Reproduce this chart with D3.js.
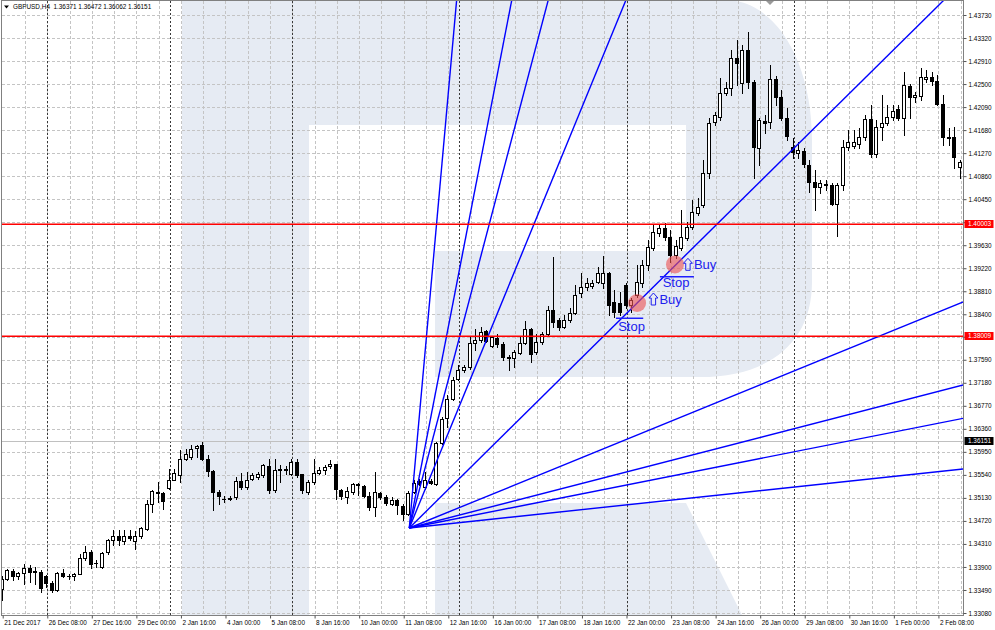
<!DOCTYPE html>
<html><head><meta charset="utf-8">
<script src="https://cdn.jsdelivr.net/npm/d3@7/dist/d3.min.js"></script>
<style>
html,body{margin:0;padding:0;background:#fff;}
svg{display:block;}
</style></head><body>
<svg id="chart" width="995" height="630"></svg>
<script>
// ---------------- DATA ----------------
const chartTitle = "GBPUSD,H4  1.36371 1.36472 1.36062 1.36151";

const barOpen = [1.33513,1.33691,1.33827,1.33732,1.33800,1.33887,1.33822,1.33809,1.33732,1.33613,
1.33483,1.33791,1.33745,1.33732,1.33780,1.34065,1.34165,1.33973,1.33898,1.34165,
1.34373,1.34449,1.34360,1.34444,1.34360,1.34444,1.34581,1.35014,1.35233,1.35215,
1.35311,1.35453,1.35541,1.35827,1.35857,1.36027,1.36065,1.35827,1.35601,1.35233,
1.35119,1.35103,1.35144,1.35429,1.35322,1.35471,1.35500,1.35530,1.35690,1.35263,
1.35637,1.35626,1.35560,1.35767,1.35548,1.35233,1.35411,1.35571,1.35631,1.35690,
1.35726,1.35275,1.35144,1.35233,1.35370,1.35334,1.35156,1.34966,1.35215,1.35144,
1.35014,1.35097,1.34978,1.34848,1.35233,1.35429,1.35316,1.35429,1.35382,1.36105,
1.36557,1.36895,1.37251,1.37399,1.37458,1.37885,1.37945,1.38099,1.37844,1.37981,
1.37874,1.37639,1.37625,1.37707,1.37885,1.38141,1.37725,1.37903,1.38052,1.38476,
1.38298,1.38179,1.38298,1.38423,1.38774,1.38880,1.38904,1.38980,1.38952,1.39130,
1.38624,1.38595,1.38921,1.38565,1.38743,1.38952,1.39278,1.39580,1.39848,1.39937,
1.39776,1.39456,1.39580,1.39758,1.39954,1.40204,1.40346,1.40916,1.41824,1.41913,
1.42341,1.42430,1.42964,1.42519,1.43107,1.42537,1.41361,1.41842,1.41824,1.42590,
1.42270,1.41896,1.41379,1.41272,1.41308,1.41058,1.40756,1.40667,1.40720,1.40702,
1.40364,1.40702,1.41379,1.41397,1.41433,1.41557,1.41878,1.41254,1.41735,1.41806,
1.41913,1.42056,1.41896,1.42465,1.42270,1.42287,1.42590,1.42626,1.42554,1.42145,
1.41557,1.41557,1.41023];

const barHigh = [1.33732,1.33869,1.33869,1.33809,1.33958,1.33928,1.33898,1.33839,1.33750,1.33649,
1.33809,1.33869,1.33780,1.33791,1.34136,1.34266,1.34195,1.34017,1.34165,1.34403,
1.34551,1.34551,1.34551,1.34551,1.34539,1.34610,1.35097,1.35263,1.35411,1.35233,
1.35649,1.35649,1.35976,1.36006,1.36065,1.36065,1.36124,1.35886,1.35619,1.35263,
1.35156,1.35156,1.35500,1.35571,1.35589,1.35571,1.35589,1.35738,1.35827,1.35827,
1.35708,1.35690,1.35827,1.35827,1.35560,1.35441,1.35827,1.35678,1.35708,1.35809,
1.35738,1.35293,1.35322,1.35393,1.35393,1.35352,1.35233,1.35589,1.35233,1.35174,
1.35144,1.35115,1.35014,1.35251,1.35441,1.35471,1.35589,1.35471,1.36123,1.36568,
1.36954,1.37280,1.37488,1.37488,1.38022,1.38141,1.38170,1.38123,1.38022,1.38052,
1.37903,1.37666,1.37767,1.37992,1.38289,1.38159,1.38052,1.38081,1.38556,1.39420,
1.38334,1.38387,1.38512,1.38921,1.39135,1.39046,1.39010,1.39247,1.39438,1.39158,
1.38832,1.38802,1.38957,1.38690,1.39278,1.39367,1.39723,1.39990,1.39990,1.40026,
1.39901,1.39723,1.40257,1.40043,1.40435,1.40471,1.41148,1.41896,1.42002,1.42608,
1.42537,1.43107,1.43285,1.43196,1.43427,1.42572,1.41896,1.41949,1.42839,1.42643,
1.42394,1.42074,1.41539,1.41468,1.41361,1.41148,1.40969,1.40791,1.40791,1.40738,
1.40738,1.41504,1.41682,1.41682,1.41717,1.41949,1.42127,1.41860,1.42305,1.42127,
1.42127,1.42127,1.42715,1.42501,1.42359,1.42786,1.42750,1.42715,1.42661,1.42305,
1.41717,1.41735,1.41148];

const barLow = [1.33305,1.33661,1.33661,1.33691,1.33602,1.33631,1.33602,1.33453,1.33542,1.33453,
1.33471,1.33720,1.33691,1.33673,1.33768,1.34029,1.33887,1.33898,1.33887,1.34136,
1.34284,1.34284,1.34302,1.34373,1.34225,1.34420,1.34551,1.34877,1.35055,1.34925,
1.35293,1.35441,1.35411,1.35798,1.35827,1.35857,1.35809,1.35518,1.34919,1.35014,
1.35055,1.35085,1.35115,1.35293,1.35293,1.35441,1.35471,1.35500,1.35215,1.35233,
1.35411,1.35560,1.35530,1.35500,1.35215,1.35204,1.35382,1.35548,1.35560,1.35667,
1.35115,1.35115,1.35037,1.35204,1.35174,1.35144,1.34907,1.34800,1.35115,1.34996,
1.34996,1.34836,1.34729,1.34827,1.35215,1.35352,1.35281,1.35370,1.35352,1.36094,
1.36390,1.36865,1.37221,1.37369,1.37429,1.37755,1.37903,1.37903,1.37814,1.37814,
1.37577,1.37399,1.37458,1.37696,1.37874,1.37547,1.37696,1.37874,1.38022,1.38179,
1.38120,1.38156,1.38262,1.38405,1.38713,1.38833,1.38868,1.38952,1.38863,1.38387,
1.38357,1.38387,1.38512,1.38441,1.38713,1.38891,1.39189,1.39545,1.39794,1.39723,
1.39331,1.39402,1.39545,1.39723,1.39919,1.40168,1.40310,1.40827,1.41771,1.41860,
1.42305,1.42305,1.42483,1.42341,1.42430,1.40827,1.41058,1.41628,1.41717,1.42127,
1.41860,1.41504,1.41183,1.41183,1.41023,1.40578,1.40257,1.40560,1.40613,1.40346,
1.39794,1.40613,1.41326,1.41361,1.41361,1.41504,1.41201,1.41201,1.41504,1.41771,
1.41860,1.41860,1.41593,1.41896,1.42181,1.42216,1.42537,1.42483,1.42127,1.41415,
1.41415,1.41005,1.40827];

const barClose = [1.33691,1.33839,1.33732,1.33791,1.33887,1.33809,1.33804,1.33531,1.33613,1.33495,
1.33791,1.33732,1.33738,1.33768,1.34065,1.34165,1.33958,1.33965,1.34154,1.34373,
1.34449,1.34373,1.34449,1.34409,1.34456,1.34592,1.35014,1.35245,1.35215,1.35073,
1.35453,1.35571,1.35827,1.35916,1.36006,1.36050,1.35827,1.35601,1.35233,1.35156,
1.35112,1.35133,1.35429,1.35322,1.35453,1.35542,1.35560,1.35708,1.35263,1.35631,
1.35626,1.35637,1.35767,1.35530,1.35263,1.35411,1.35571,1.35631,1.35678,1.35726,
1.35293,1.35156,1.35251,1.35370,1.35364,1.35169,1.34966,1.35233,1.35144,1.35037,
1.35097,1.34996,1.34848,1.35215,1.35393,1.35382,1.35441,1.35393,1.36105,1.36539,
1.36895,1.37233,1.37399,1.37458,1.37885,1.37945,1.38081,1.37933,1.37992,1.37874,
1.37636,1.37630,1.37725,1.37885,1.38141,1.37696,1.37903,1.38052,1.38479,1.38268,
1.38179,1.38298,1.38423,1.38744,1.38891,1.38952,1.38962,1.39130,1.39130,1.38565,
1.38446,1.38446,1.38565,1.38654,1.38980,1.39278,1.39604,1.39865,1.39928,1.39776,
1.39456,1.39616,1.39776,1.39954,1.40222,1.40310,1.40916,1.41806,1.41949,1.42341,
1.42430,1.42964,1.42875,1.43107,1.42537,1.41379,1.41860,1.41806,1.42590,1.42270,
1.41896,1.41575,1.41290,1.41326,1.41076,1.40756,1.40667,1.40738,1.40711,1.40364,
1.40702,1.41379,1.41468,1.41468,1.41557,1.41878,1.41254,1.41735,1.41806,1.41913,
1.42020,1.41896,1.42483,1.42270,1.42305,1.42626,1.42626,1.42554,1.42145,1.41557,
1.41546,1.41201,1.41112];

const timeLabels = ["21 Dec 2017","26 Dec 08:00","27 Dec 16:00","29 Dec 00:00","2 Jan 16:00","4 Jan 00:00",
"5 Jan 08:00","8 Jan 16:00","10 Jan 00:00","11 Jan 08:00","12 Jan 16:00","16 Jan 00:00","17 Jan 08:00",
"18 Jan 16:00","22 Jan 00:00","23 Jan 08:00","24 Jan 16:00","26 Jan 00:00","29 Jan 08:00","30 Jan 16:00",
"1 Feb 00:00","2 Feb 08:00"];
const timeLabelBars = [0,8,16,24,32,40,48,56,64,72,80,88,96,104,112,120,128,136,144,152,160,168];
const weekSeparatorBars = [8,30,52,82,112,142];

const priceTicks = ["1.33080","1.33490","1.33900","1.34310","1.34720","1.35130","1.35540","1.35950","1.36360",
"1.36770","1.37180","1.37590","1.38000","1.38400","1.38810","1.39220","1.39630","1.40040","1.40450",
"1.40860","1.41270","1.41680","1.42090","1.42500","1.42910","1.43320","1.43730"];

const levelPrices = [1.40003, 1.38009];
const bidPrice = 1.36151;

const fanOriginBar = 73.0, fanOriginPrice = 1.34594;
const fanEndBars   = [81.5, 91.4, 97.95, 111.9, 169.0, 172.45, 172.45, 172.45, 172.45];
const fanEndPrices = [1.43997,1.43997,1.43997,1.43997,1.43997,1.38619,1.37141,1.36547,1.35644];

const buyBars = [113.9, 120.7], buyPrices = [1.38601, 1.39287];
const buyLabelBars = [116.2, 122.4], buyLabelPrices = [1.38583, 1.39201];
const stopStartBars = [110.1, 118.0], stopEndBars = [115.0, 124.1], stopPrices = [1.38329, 1.39069];
const stopLabelBars = [110.5, 118.5], stopLabelPrices = [1.38102, 1.38877];

// ---------------- LAYOUT ----------------
const svg = d3.select("#chart");
const P = {left: 2, right: 963, top: 1, bottom: 615};
const x = d3.scaleLinear().domain([0, 172]).range([2.7, 960.7]);
const y = d3.scaleLinear().domain([1.33080, 1.43730]).range([613, 15]);
const FONT = "'Liberation Sans', Arial, sans-serif";

svg.append("rect").attr("width",995).attr("height",630).attr("fill","#fff");

const defs = svg.append("defs");
defs.append("clipPath").attr("id","plot").append("rect")
  .attr("x",P.left).attr("y",P.top).attr("width",P.right-P.left).attr("height",P.bottom-P.top);

const plot = svg.append("g").attr("clip-path","url(#plot)");

// watermark logo
const wm = "#e6ebf3";
plot.append("path").attr("fill",wm)
  .attr("d","M182,0 L725,0 C776,0 812,62 812,140 L812,282 C812,342 770,377 700,377 L435,377 L435,251 L686,251 L686,125 L309,125 L309,615 L182,615 Z");
plot.append("path").attr("fill",wm).attr("d","M435,503 L686,503 L742,615 L435,615 Z");

// horizontal grid
plot.append("g").selectAll("line").data(priceTicks).join("line")
  .attr("x1",P.left).attr("x2",P.right)
  .attr("y1",d=>Math.round(y(+d))+0.5).attr("y2",d=>Math.round(y(+d))+0.5)
  .attr("stroke","#c4c4c4").attr("stroke-dasharray","3,2");
// vertical grid
plot.append("g").selectAll("line").data(d3.range(4,173,4)).join("line")
  .attr("x1",d=>Math.round(x(d))+0.5).attr("x2",d=>Math.round(x(d))+0.5)
  .attr("y1",P.top).attr("y2",P.bottom)
  .attr("stroke","#c4c4c4").attr("stroke-dasharray","3,2");
// week separators
plot.append("g").selectAll("line").data(weekSeparatorBars).join("line")
  .attr("x1",d=>Math.round(x(d))+0.5).attr("x2",d=>Math.round(x(d))+0.5)
  .attr("y1",P.top).attr("y2",P.bottom)
  .attr("stroke","#3a3a3a").attr("stroke-dasharray","2,2");

// bid line
plot.append("line").attr("x1",P.left).attr("x2",P.right)
  .attr("y1",Math.round(y(bidPrice))+0.5).attr("y2",Math.round(y(bidPrice))+0.5)
  .attr("stroke","#c0c0c0");

// candles
const bars = barOpen.map((o,i)=>({i,o,h:barHigh[i],l:barLow[i],c:barClose[i]}));
const cg = plot.append("g");
cg.selectAll("line").data(bars).join("line")
  .attr("x1",d=>Math.round(x(d.i))-0.5).attr("x2",d=>Math.round(x(d.i))-0.5)
  .attr("y1",d=>Math.round(y(d.h))).attr("y2",d=>Math.round(y(d.l))+1)
  .attr("stroke","#000");
cg.selectAll("rect").data(bars).join("rect")
  .attr("x",d=>Math.round(x(d.i))-2.5)
  .attr("width",3)
  .attr("y",d=>Math.round(y(Math.max(d.o,d.c)))+0.5)
  .attr("height",d=>Math.max(0.01, Math.round(y(Math.min(d.o,d.c)))-Math.round(y(Math.max(d.o,d.c)))))
  .attr("fill",d=>d.c>=d.o?"#fff":"#000")
  .attr("stroke","#000").attr("stroke-width",1);

// gann fan
plot.append("g").selectAll("line").data(fanEndBars.map((b,i)=>({b,p:fanEndPrices[i]}))).join("line")
  .attr("x1",x(fanOriginBar)).attr("y1",y(fanOriginPrice))
  .attr("x2",d=>x(fanOriginBar)+(x(d.b)-x(fanOriginBar))*1.5)
  .attr("y2",d=>y(fanOriginPrice)+(y(d.p)-y(fanOriginPrice))*1.5)
  .attr("stroke","#0000ff").attr("stroke-width",1.4);

// horizontal levels
plot.append("g").selectAll("line").data(levelPrices).join("line")
  .attr("x1",P.left).attr("x2",P.right)
  .attr("y1",d=>y(d)).attr("y2",d=>y(d))
  .attr("stroke","#ff0000").attr("stroke-width",1.5);

// annotations
const ann = svg.append("g");
const BLUE = "#2020ee";
ann.selectAll("circle").data(buyBars).join("circle")
  .attr("cx",(d,i)=>x(d)).attr("cy",(d,i)=>y(buyPrices[i])).attr("r",9)
  .attr("fill","rgba(236,84,84,0.62)");
ann.selectAll("line.stop").data(stopPrices).join("line").attr("class","stop")
  .attr("x1",(d,i)=>x(stopStartBars[i])).attr("x2",(d,i)=>x(stopEndBars[i]))
  .attr("y1",d=>y(d)).attr("y2",d=>y(d))
  .attr("stroke","#1e1eff").attr("stroke-width",1.5);
ann.selectAll("text.stop").data(stopLabelBars).join("text").attr("class","stop")
  .attr("x",d=>x(d)).attr("y",(d,i)=>y(stopLabelPrices[i]))
  .attr("font-family",FONT).attr("font-size",13).attr("fill",BLUE).text("Stop");
// outlined up-arrow symbol (the ⇧ glyph of the original) drawn as a small path
ann.selectAll("path.arrow").data(buyLabelBars).join("path").attr("class","arrow")
  .attr("transform",(d,i)=>`translate(${x(d)-0.5},${y(buyLabelPrices[i])+1})`)
  .attr("d","M4,-12 L8.5,-7 L6.2,-7 L6.2,0 L1.8,0 L1.8,-7 L-0.5,-7 Z")
  .attr("fill","none").attr("stroke",BLUE).attr("stroke-width",1).attr("stroke-linejoin","miter");
ann.selectAll("text.buy").data(buyLabelBars).join("text").attr("class","buy")
  .attr("x",d=>x(d)+9.5).attr("y",(d,i)=>y(buyLabelPrices[i]))
  .attr("fill",BLUE).attr("font-family",FONT).attr("font-size",13).text("Buy");

// frame
svg.append("rect").attr("x",P.left-0.5).attr("y",0.5).attr("width",P.right-P.left+1).attr("height",P.bottom)
  .attr("fill","none").attr("stroke","#808080");

// shift marker
svg.append("path").attr("d","M766,1 L774,1 L770,5 Z").attr("fill","#9a9a9a");

// price axis
const yAxis = d3.axisRight(y).tickValues(priceTicks.map(Number))
  .tickFormat((d,i)=>priceTicks[i]).tickSize(3).tickPadding(2);
const ya = svg.append("g").attr("transform",`translate(${P.right+0.5},0)`).call(yAxis);
ya.select(".domain").remove();
ya.selectAll("line").attr("stroke","#555");
ya.selectAll("text").attr("font-family",FONT).attr("font-size",6.4).attr("fill","#000");

// time axis
const xAxis = d3.axisBottom(x).tickValues(timeLabelBars)
  .tickFormat((d,i)=>timeLabels[i]).tickSize(3).tickPadding(1.5);
const xa = svg.append("g").attr("transform",`translate(0,${P.bottom+0.5})`).call(xAxis);
xa.select(".domain").remove();
xa.selectAll("line").attr("stroke","#555");
xa.selectAll("text").attr("text-anchor","start").attr("x",1)
  .attr("font-family",FONT).attr("font-size",6.4).attr("fill","#000");

// price markers on axis
function marker(price, bg){
  const yy = Math.round(y(price));
  svg.append("rect").attr("x",P.right+1.5).attr("y",yy-4).attr("width",29).attr("height",8).attr("fill",bg);
  svg.append("text").attr("x",P.right+5).attr("y",yy+2.3).attr("font-family",FONT).attr("font-size",6.4)
    .attr("fill","#fff").text(price.toFixed(5));
}
levelPrices.forEach(p=>marker(p,"#ff0000"));
marker(bidPrice,"#000");

// title
svg.append("path").attr("d","M4,5.5 L9,5.5 L6.5,8.5 Z").attr("fill","#000");
svg.append("text").attr("x",13).attr("y",9.3).attr("font-family",FONT).attr("font-size",6.4)
  .attr("fill","#000").attr("xml:space","preserve").text(chartTitle);
</script>
</body></html>
